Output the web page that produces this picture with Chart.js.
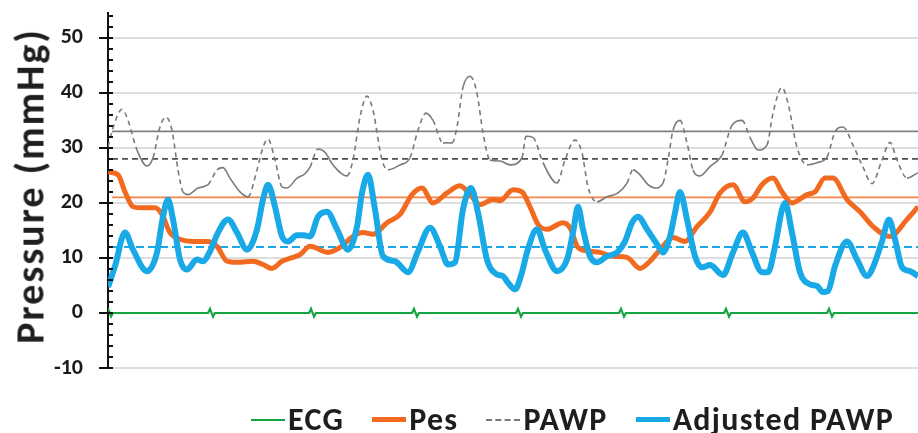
<!DOCTYPE html>
<html>
<head>
<meta charset="utf-8">
<script src="https://cdn.jsdelivr.net/npm/chart.js@4"></script>
<style>
  body { margin: 0; background: #fff; }
  #wrap { position: relative; width: 918px; height: 433px; font-family: Carlito, Lato, sans-serif; }
  #ytitle { position: absolute; left: 30px; top: 186px; transform: translate(-50%, -50%) rotate(-90deg);
    white-space: nowrap; font-weight: bold; font-size: 40px; letter-spacing: 2px; color: #1e1e1e; }
  #legend { position: absolute; left: 251px; top: 400px; display: flex; align-items: center; gap: 28px;
    font-weight: bold; font-size: 32px; letter-spacing: 1.3px; color: #1e1e1e; white-space: nowrap; }
  .item { display: flex; align-items: center; gap: 3px; }
  .swatch { width: 34px; height: 0; }
</style>
</head>
<body>
<div id="wrap">
  <canvas id="myChart"></canvas>
  <div id="ytitle">Pressure (mmHg)</div>
  <div id="legend"></div>
</div>
<script>
// time (s) , pressure (mmHg)
var ecg = [[0.00,0.9],[0.03,-0.7],[0.05,0],[1.00,0],[1.02,0.8],[1.05,-0.7],[1.07,0],
  [2.01,0],[2.03,0.8],[2.06,-0.7],[2.08,0],[3.04,0],[3.06,0.8],[3.09,-0.7],[3.11,0],
  [4.08,0],[4.10,0.8],[4.13,-0.7],[4.15,0],[5.11,0],[5.13,0.8],[5.16,-0.7],[5.18,0],
  [6.16,0],[6.18,0.8],[6.21,-0.7],[6.23,0],[7.19,0],[7.21,0.8],[7.24,-0.7],[7.26,0],[8.10,0]];

var pes = [[0.00,25.6],[0.10,25.1],[0.17,22],[0.25,19.3],[0.34,19.1],[0.47,19.1],[0.54,17.9],
  [0.62,14.6],[0.72,13.4],[0.85,13],[0.99,13],[1.09,12.1],[1.19,9.4],[1.29,9.2],[1.45,9.4],
  [1.55,8.8],[1.64,8.1],[1.74,9.4],[1.85,10.1],[1.92,10.6],[2.02,12.1],[2.20,11],[2.32,11.9],
  [2.45,13.9],[2.55,14.6],[2.65,14.3],[2.79,16.4],[2.92,17.9],[3.04,21.5],[3.14,22.7],[3.25,20],
  [3.39,21.8],[3.52,23.1],[3.62,21.5],[3.72,19.7],[3.85,20.6],[3.92,20.4],[4.05,22.4],[4.14,22],
  [4.22,19.3],[4.30,16.1],[4.39,15.2],[4.55,16.4],[4.62,15.5],[4.70,11.9],[4.82,11.2],[4.92,11],
  [5.05,10.3],[5.19,10.1],[5.32,8.1],[5.42,9.4],[5.52,11.5],[5.65,13.7],[5.77,13],[5.89,15.7],
  [6.02,18.3],[6.12,21.8],[6.25,23.3],[6.37,20.2],[6.45,20.9],[6.54,23.3],[6.65,24.5],[6.74,22],
  [6.84,20],[6.99,21.5],[7.07,22],[7.17,24.5],[7.25,24.5],[7.39,20.6],[7.52,18.4],[7.65,15.7],
  [7.82,13.9],[7.99,17],[8.10,19.3]];

var pawp = [[0.00,30.2],[0.05,33.6],[0.14,37],[0.20,35],[0.29,29.6],[0.39,26.7],[0.45,28.2],
  [0.52,33.8],[0.58,35.6],[0.64,33.2],[0.70,26],[0.75,22],[0.80,21.5],[0.90,22.7],[1.00,23.3],
  [1.09,26],[1.15,26.4],[1.22,24.5],[1.32,22],[1.40,21.1],[1.49,26],[1.55,30.1],[1.60,31.6],
  [1.67,27.8],[1.74,22.9],[1.79,22.7],[1.89,24.5],[1.97,25.3],[2.02,26.5],[2.10,29.8],[2.17,29.2],
  [2.25,26.9],[2.39,24.9],[2.45,27.8],[2.52,35.6],[2.59,39.4],[2.65,36.8],[2.74,27.8],[2.80,26],
  [2.92,26.9],[3.02,28.2],[3.10,33.2],[3.18,36.3],[3.25,35],[3.35,30.9],[3.44,30.9],[3.49,33.8],
  [3.55,41],[3.62,43],[3.69,39.9],[3.75,32.7],[3.82,27.8],[3.92,27.6],[4.02,26.9],[4.14,28.2],
  [4.18,32.1],[4.25,31.9],[4.35,27.3],[4.49,23.6],[4.57,27.8],[4.67,31.4],[4.74,29.1],[4.80,22.9],
  [4.89,20.2],[4.99,21.1],[5.10,21.8],[5.19,23.6],[5.25,26],[5.32,25.1],[5.40,23.3],[5.47,22.7],
  [5.55,23.6],[5.60,27.8],[5.65,33.2],[5.72,35],[5.79,30.9],[5.85,26],[5.92,24.9],[6.02,26.6],
  [6.14,28.7],[6.24,34.1],[6.34,35],[6.42,31.9],[6.50,29.6],[6.59,30.5],[6.65,36.3],[6.74,41],
  [6.80,38.1],[6.89,30.1],[6.99,26.9],[7.09,27.3],[7.19,28.3],[7.27,32.9],[7.35,33.8],[7.45,30.5],
  [7.55,26.5],[7.64,23.5],[7.74,27.8],[7.82,31],[7.89,27.8],[7.99,24.5],[8.10,25.5]];

var adjPawp = [[0.00,4.7],[0.07,8.5],[0.17,14.6],[0.25,11.5],[0.39,7.6],[0.49,11],[0.55,17.5],
  [0.60,20.6],[0.65,17],[0.72,9.7],[0.79,7.9],[0.89,9.7],[0.95,9.4],[1.02,11.2],[1.10,14.6],
  [1.20,17],[1.29,14.6],[1.39,11.5],[1.49,15.2],[1.55,20.6],[1.60,23.3],[1.67,19.3],[1.74,13.9],
  [1.80,13],[1.89,14.1],[1.96,14.1],[2.02,13.9],[2.10,17.5],[2.19,18.4],[2.29,15.2],[2.40,11.5],
  [2.49,15.7],[2.54,21.8],[2.60,25.1],[2.67,18.8],[2.75,10.3],[2.87,9.4],[3.00,7.4],[3.10,11.2],
  [3.22,15.5],[3.32,12.1],[3.40,8.8],[3.47,9.2],[3.55,18.8],[3.63,22.7],[3.70,18.2],[3.79,9.7],
  [3.89,7],[3.95,6.7],[4.00,5.5],[4.07,4.3],[4.14,7.4],[4.19,11],[4.29,15.2],[4.37,11.5],
  [4.49,7.6],[4.59,9.7],[4.65,14.6],[4.70,19.3],[4.75,15.2],[4.82,10.3],[4.89,9.2],[4.99,10.3],
  [5.09,11],[5.17,13],[5.24,16.4],[5.30,17.5],[5.39,15.2],[5.49,12.5],[5.55,11],[5.62,13.9],
  [5.67,18.2],[5.72,22],[5.79,17],[5.87,10.3],[5.94,8.3],[6.02,8.7],[6.15,6.9],[6.25,11],
  [6.35,14.6],[6.44,11],[6.54,7.4],[6.60,7.4],[6.67,12.1],[6.74,18.8],[6.77,20],[6.84,14.6],
  [6.92,7.4],[7.02,5.2],[7.09,4.9],[7.15,3.8],[7.20,4],[7.27,8.5],[7.39,13],[7.49,9.7],
  [7.59,6.7],[7.65,8.3],[7.74,13],[7.81,17],[7.87,13.4],[7.94,8.3],[8.02,7.6],[8.10,6.7]];

// horizontal reference levels: PAWP (solid), PAWP (dashed), Pes, adjusted PAWP
var refLevels = [33, 28, 21, 12];
var yMajor = [-10, 0, 10, 20, 30, 40, 50];
var legendNames = ["ECG", "Pes", "PAWP", "Adjusted PAWP"];

var tStart = 0, tEnd = 8.1;
var green = "#12a640", orange = "#f26a1f", grey = "#7a7a7a", blue = "#19a9e6";

function pts(arr) {
  return arr.map(function (p) { return { x: p[0], y: p[1] }; });
}
function level(v) {
  return [{ x: tStart + 0.04, y: v }, { x: tEnd, y: v }];
}

// steep parts of the PAWP trace come out dashed in the original
function steepDash(ctx) {
  var dx = Math.abs(ctx.p1.x - ctx.p0.x), dy = Math.abs(ctx.p1.y - ctx.p0.y);
  return dy > 1.6 * dx ? [5, 4] : undefined;
}

var axisTicks = {
  id: "axisTicks",
  afterDraw: function (chart) {
    var y = chart.scales.y, ctx = chart.ctx, x0 = chart.chartArea.left;
    ctx.save();
    ctx.strokeStyle = "#111";
    ctx.lineWidth = 2;
    for (var v = -10; v <= 54; v += 2) {
      var py = Math.round(y.getPixelForValue(v));
      ctx.beginPath();
      if (v % 10 === 0) { ctx.moveTo(x0 - 9, py); ctx.lineTo(x0 + 5, py); }
      else { ctx.moveTo(x0, py); ctx.lineTo(x0 + 5, py); }
      ctx.stroke();
    }
    ctx.restore();
  }
};

new Chart("myChart", {
  type: "line",
  data: {
    datasets: [
      { label: "Adjusted PAWP", data: pts(adjPawp), borderColor: blue, borderWidth: 6, order: 1,
        cubicInterpolationMode: "monotone" },
      { label: "Pes", data: pts(pes), borderColor: orange, borderWidth: 5, order: 2,
        cubicInterpolationMode: "monotone" },
      { label: "ECG", data: pts(ecg), borderColor: green, borderWidth: 2, order: 3, tension: 0 },
      { label: "PAWP", data: pts(pawp), borderColor: grey, borderWidth: 1.6, order: 4,
        cubicInterpolationMode: "monotone", segment: { borderDash: steepDash } },
      { data: level(refLevels[0]), borderColor: "#808080", borderWidth: 1.6, order: 5 },
      { data: level(refLevels[1]), borderColor: "#505050", borderWidth: 1.6, borderDash: [6, 4], order: 5 },
      { data: level(refLevels[2]), borderColor: "#f4844a", borderWidth: 1.6, order: 5 },
      { data: level(refLevels[3]), borderColor: blue, borderWidth: 2, borderDash: [8, 4], order: 5 }
    ]
  },
  options: {
    responsive: true,
    maintainAspectRatio: false,
    animation: false,
    elements: { point: { radius: 0 } },
    layout: { padding: { top: 13, bottom: 65, left: 0, right: 0 } },
    plugins: { legend: { display: false }, tooltip: { enabled: false } },
    scales: {
      x: { type: "linear", min: tStart, max: tEnd, display: false },
      y: {
        min: -10, max: 54.5,
        afterBuildTicks: function (s) { s.ticks = yMajor.map(function (v) { return { value: v }; }); },
        afterFit: function (s) { s.width = 108; s.paddingTop = 0; s.paddingBottom = 0; },
        ticks: { padding: 25, color: "#1a1a1a", font: { family: "Carlito, Lato", size: 22, weight: "bold" } },
        grid: { drawTicks: false, color: "#dedede", lineWidth: 2 },
        border: { display: true, color: "#111", width: 2 }
      }
    }
  },
  plugins: [axisTicks]
});

var colors = [green, orange, grey, blue];
var legend = document.getElementById("legend");
legendNames.forEach(function (name, i) {
  var item = document.createElement("div");
  item.className = "item";
  var sw = document.createElement("div");
  sw.className = "swatch";
  var w = [2, 5, 2, 5][i];
  sw.style.borderTop = w + "px " + (i === 2 ? "dashed " : "solid ") + colors[i];
  var txt = document.createElement("span");
  txt.textContent = name;
  item.appendChild(sw);
  item.appendChild(txt);
  legend.appendChild(item);
});
</script>
</body>
</html>
